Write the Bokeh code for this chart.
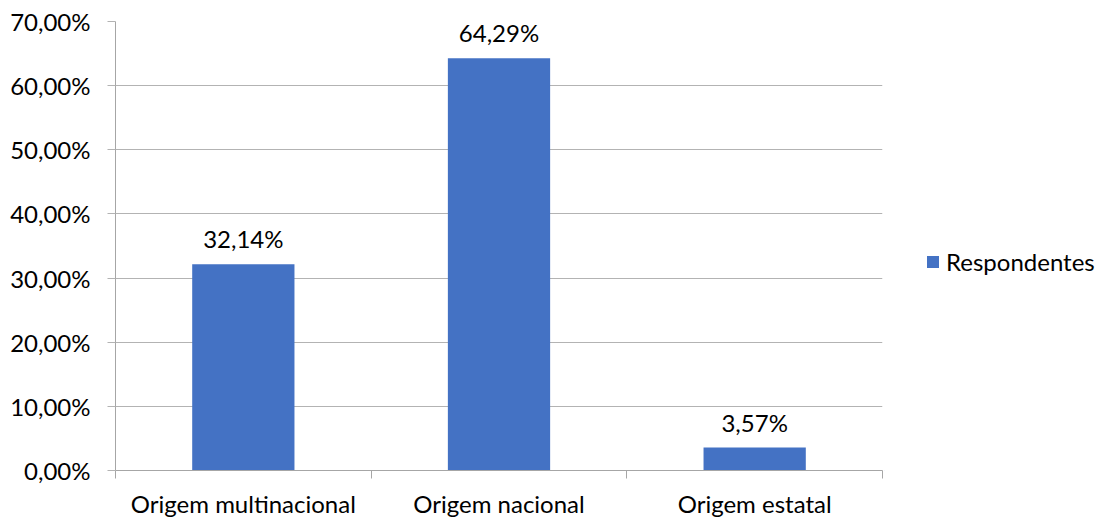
from bokeh.plotting import figure
from bokeh.layouts import row
from bokeh.models import (ColumnDataSource, FixedTicker, Range1d, Legend, LegendItem,
                          LabelSet)
from bokeh.core.properties import value
from bokeh.embed import file_html
from bokeh.resources import INLINE

# Data
categories = ["Origem multinacional", "Origem nacional", "Origem estatal"]
values = [32.14, 64.29, 3.57]
value_labels = ["32,14%", "64,29%", "3,57%"]
y_ticks = [0, 10, 20, 30, 40, 50, 60, 70]
y_tick_labels = ["0,00%", "10,00%", "20,00%", "30,00%", "40,00%", "50,00%", "60,00%", "70,00%"]
series_name = "Respondentes"

FONT = "Lato"
FONT_SIZE = "24px"
BAR_COLOR = "#4472C4"
GRID_COLOR = "#b3b3b3"
AXIS_COLOR = "#a6a6a6"

xs = [i + 0.5 for i in range(len(categories))]
src = ColumnDataSource(dict(x=xs, top=values, label=value_labels))

# Main bar chart
p = figure(width=884, height=521, output_backend="svg", toolbar_location=None,
           x_range=Range1d(0, len(categories)), y_range=Range1d(0, 70),
           min_border_left=115, min_border_right=2, min_border_top=21,
           min_border_bottom=51)
p.outline_line_color = None
p.background_fill_color = "white"
p.border_fill_color = "white"

p.vbar(x="x", top="top", width=0.4, source=src, color=BAR_COLOR, line_color=None)

labels = LabelSet(x="x", y="top", text="label", source=src, text_align="center",
                  text_baseline="bottom", y_offset=11, text_font=value(FONT),
                  text_font_size=value(FONT_SIZE), text_color="#000000")
p.add_layout(labels)

# X axis: labels centred on each category, ticks on the category boundaries
p.xaxis.ticker = FixedTicker(ticks=xs, minor_ticks=list(range(len(categories) + 1)))
p.xaxis.major_label_overrides = {x: c for x, c in zip(xs, categories)}
p.xaxis.major_tick_line_color = None
p.xaxis.minor_tick_line_color = AXIS_COLOR
p.xaxis.minor_tick_in = 0
p.xaxis.minor_tick_out = 8
p.xaxis.axis_line_color = AXIS_COLOR
p.xaxis.major_label_standoff = 10
p.xaxis.major_label_text_font = FONT
p.xaxis.major_label_text_font_size = FONT_SIZE
p.xaxis.major_label_text_color = "#000000"
p.xgrid.grid_line_color = None

# Y axis
p.yaxis.ticker = FixedTicker(ticks=y_ticks, minor_ticks=[])
p.yaxis.major_label_overrides = {t: l for t, l in zip(y_ticks, y_tick_labels)}
p.yaxis.axis_line_color = AXIS_COLOR
p.yaxis.major_tick_line_color = GRID_COLOR
p.yaxis.major_tick_in = 0
p.yaxis.major_tick_out = 8
p.yaxis.major_label_standoff = 17
p.yaxis.major_label_text_font = FONT
p.yaxis.major_label_text_font_size = FONT_SIZE
p.yaxis.major_label_text_color = "#000000"
p.ygrid.grid_line_color = GRID_COLOR

# Legend panel to the right of the chart; the swatch renderer sits well outside
# the visible range so only its legend entry shows.
leg = figure(width=220, height=521, output_backend="svg", toolbar_location=None,
             x_range=Range1d(0, 1), y_range=Range1d(0, 1),
             x_axis_type=None, y_axis_type=None, min_border=0)
leg.outline_line_color = None
leg.xgrid.grid_line_color = None
leg.ygrid.grid_line_color = None
swatch = leg.vbar(x=[-10], top=[-5], bottom=[-10], width=0.1,
                  color=BAR_COLOR, line_color=None)

legend = Legend(items=[LegendItem(label=series_name, renderers=[swatch])],
                location=(41, 194), orientation="vertical",
                glyph_width=15, glyph_height=15, label_standoff=6,
                padding=0, margin=0, spacing=0,
                border_line_color=None, background_fill_alpha=0,
                label_text_font=FONT, label_text_font_size=FONT_SIZE,
                label_text_color="#000000")
leg.add_layout(legend)

layout = row(p, leg, spacing=0)
open("out.html", "w").write(file_html(layout, INLINE))
